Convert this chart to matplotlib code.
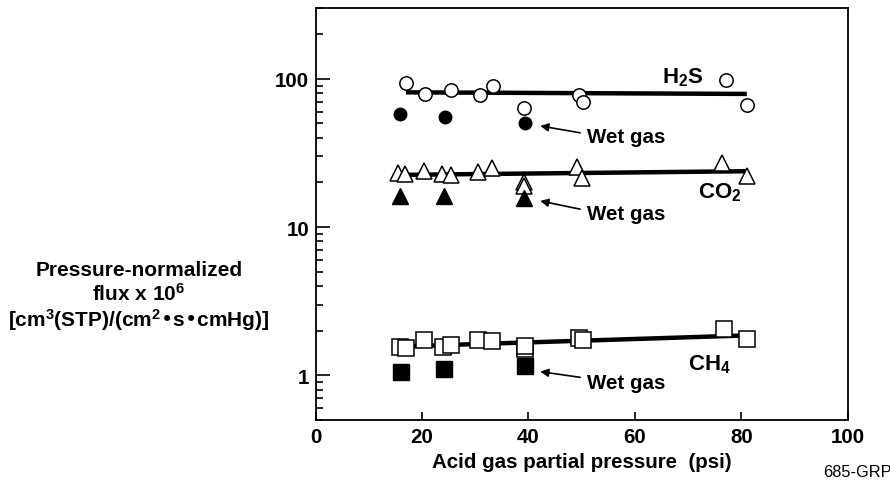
import matplotlib
matplotlib.use("Agg")
import matplotlib.pyplot as plt

plt.rcParams["font.family"] = ["Liberation Sans", "DejaVu Sans"]
plt.rcParams["font.weight"] = "bold"
plt.rcParams["mathtext.default"] = "regular"

# ===== DATOS =====

# H2S
h2s_x = [17.0, 20.6, 25.4, 30.8, 33.3, 39.2, 49.4, 50.3, 77.0, 81.0]
h2s_y = [93.5, 79.2, 84.3, 78.3, 88.7, 63.4, 77.9, 69.6, 98.5, 66.7]
h2s_wet_x = [15.9, 24.3, 39.3]
h2s_wet_y = [58.3, 55.6, 50.7]

# CO2
co2_x = [15.4, 16.8, 20.3, 23.8, 25.4, 30.5, 33.1, 39.2, 39.2, 49.1, 50.1, 76.4, 81.0]
co2_y = [23.1, 22.7, 24.0, 22.7, 22.5, 23.6, 24.9, 20.2, 19.0, 25.5, 21.3, 26.9, 22.1]
co2_wet_x = [15.9, 24.2, 39.2]
co2_wet_y = [16.2, 16.2, 15.6]

# CH4
ch4_x = [15.9, 17.0, 20.3, 23.9, 25.4, 30.5, 33.1, 39.3, 39.3, 49.4, 50.2, 76.7, 81.0]
ch4_y = [1.55, 1.54, 1.72, 1.55, 1.61, 1.72, 1.71, 1.50, 1.57, 1.80, 1.72, 2.04, 1.77]
ch4_wet_x = [16.1, 24.1, 39.3]
ch4_wet_y = [1.05, 1.10, 1.16]

# lineas de ajuste
fit_x = [17, 81]
h2s_fit = [81, 79]
co2_fit = [22.5, 23.8]
ch4_fit = [1.57, 1.86]

x_ticks = [0, 20, 40, 60, 80, 100]
y_ticks = [1, 10, 100]


# ===== GRAFICA =====

fig = plt.figure(figsize=(8.9, 4.81), dpi=100)
ax = fig.add_axes([0.3545, 0.1247, 0.5983, 0.8566])

for fy in [h2s_fit, co2_fit, ch4_fit]:
    ax.plot(fit_x, fy, color="black", lw=3.2, solid_capstyle="butt", zorder=2)

ax.plot(h2s_x, h2s_y, "o", ms=9.6, mfc="white", mec="black", mew=1.1, zorder=3)
ax.plot(h2s_wet_x, h2s_wet_y, "o", ms=9.0, mfc="black", mec="black", zorder=3)

ax.plot(co2_x, co2_y, "^", ms=12, mfc="white", mec="black", mew=1.1, zorder=3)
ax.plot(co2_wet_x, co2_wet_y, "^", ms=12, mfc="black", mec="black", zorder=3)

ax.plot(ch4_x, ch4_y, "s", ms=11, mfc="white", mec="black", mew=1.1, zorder=3)
ax.plot(ch4_wet_x, ch4_wet_y, "s", ms=11, mfc="black", mec="black", zorder=3)

ax.set_yscale("log")
ax.set_xlim(0, 100)
ax.set_ylim(0.5, 300)

ax.set_xticks(x_ticks)
ax.set_yticks(y_ticks)
ax.set_yticklabels([str(t) for t in y_ticks])
ax.tick_params(axis="x", direction="in", length=6, width=1.2, labelsize=14.8, pad=5)
ax.tick_params(axis="y", which="major", direction="in", length=10, width=1.2, labelsize=14.8, pad=4.5)
ax.tick_params(axis="y", which="minor", direction="in", length=5, width=1.2)
ax.yaxis.set_minor_formatter(matplotlib.ticker.NullFormatter())
for s in ax.spines.values():
    s.set_linewidth(1.3)

ax.set_xlabel("Acid gas partial pressure  (psi)", fontsize=14.8, fontweight="bold", labelpad=4)

# etiquetas de gases
ax.text(69.0, 103, "H$_2$S", fontsize=16, ha="center", va="center")
ax.text(76.0, 17.2, "CO$_2$", fontsize=16, ha="center", va="center")
ax.text(73.9, 1.2, "CH$_4$", fontsize=16, ha="center", va="center")

# flechas gas humedo
for hy, ty, txy in [(48.1, 43.2, 40.6), (15.0, 13.2, 12.4), (1.06, 0.97, 0.90)]:
    ax.annotate("", xy=(42.2, hy), xytext=(49.7, ty),
                arrowprops=dict(arrowstyle="-|>", color="black", lw=1.2,
                                mutation_scale=12, shrinkA=0, shrinkB=0))
    ax.text(51.0, txy, "Wet gas", fontsize=14.8, ha="left", va="center")

fig.text(139 / 890, 1 - 297 / 481,
         "Pressure-normalized\nflux x 10$^6$\n[cm$^3$(STP)/(cm$^2$•s•cmHg)]",
         fontsize=15, ha="center", va="center", linespacing=1.12)

fig.text(823 / 890, 1 - 473 / 481, "685-GRP", fontsize=11.8, fontweight="normal",
         ha="left", va="center")

fig.savefig("out.png", dpi=100)
